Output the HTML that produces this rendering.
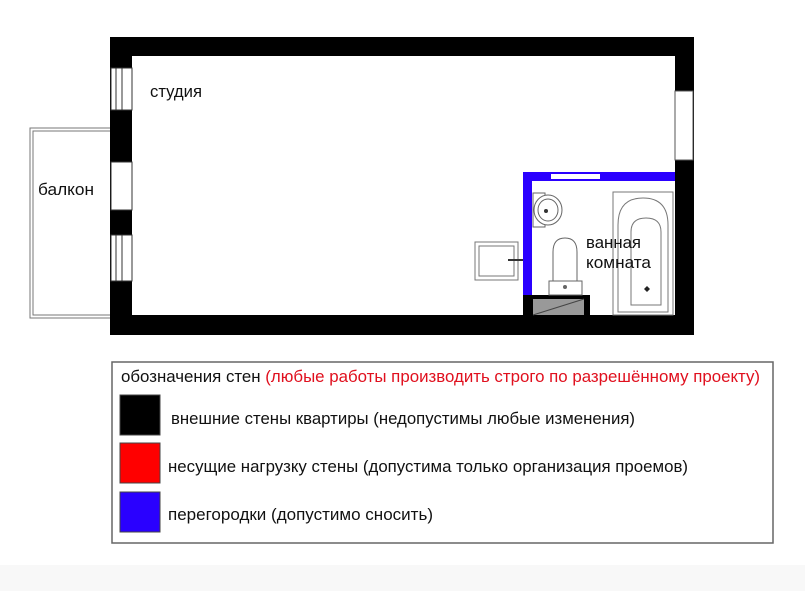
<!DOCTYPE html>
<html><head><meta charset="utf-8"><style>
html,body{margin:0;padding:0;background:#fff}
svg{display:block}
text{font-family:"Liberation Sans",sans-serif}
</style></head><body>
<svg width="805" height="591" viewBox="0 0 805 591" xmlns="http://www.w3.org/2000/svg">
<rect x="0" y="565" width="805" height="26" fill="#f8f8f8"/>
<rect x="30" y="128" width="81" height="190" fill="#fff" stroke="#777" stroke-width="1"/>
<rect x="33" y="131" width="78" height="184" fill="none" stroke="#777" stroke-width="1"/>
<rect x="110" y="37" width="584" height="19" fill="#000"/>
<rect x="110" y="315" width="584" height="20" fill="#000"/>
<rect x="675" y="37" width="19" height="298" fill="#000"/>
<rect x="110" y="37" width="22" height="298" fill="#000"/>
<rect x="111" y="68" width="21" height="42" fill="#fff" stroke="#333" stroke-width="1"/>
<line x1="116" y1="68" x2="116" y2="110" stroke="#333"/><line x1="122" y1="68" x2="122" y2="110" stroke="#333"/>
<rect x="111" y="162" width="21" height="48" fill="#fff" stroke="#333" stroke-width="1"/>
<rect x="111" y="235" width="21" height="46" fill="#fff" stroke="#333" stroke-width="1"/>
<line x1="116" y1="235" x2="116" y2="281" stroke="#333"/><line x1="122" y1="235" x2="122" y2="281" stroke="#333"/>
<rect x="675" y="91" width="18" height="69" fill="#fff" stroke="#555" stroke-width="1"/>
<rect x="523" y="172" width="152" height="9" fill="#2a00ff"/>
<rect x="523" y="172" width="9" height="123" fill="#2a00ff"/>
<rect x="551" y="174" width="49" height="5" fill="#fff"/>
<rect x="523" y="295" width="67" height="20" fill="#000"/>
<rect x="533" y="299" width="51" height="16" fill="#999"/>
<line x1="533" y1="315" x2="584" y2="299" stroke="#444"/>
<rect x="475" y="242" width="43" height="38" fill="#fff" stroke="#777"/>
<rect x="479" y="246" width="35" height="30" fill="none" stroke="#777"/>
<line x1="508" y1="260" x2="523" y2="260" stroke="#333" stroke-width="2"/>
<rect x="533" y="193" width="12" height="34" fill="#fff" stroke="#666"/>
<ellipse cx="548" cy="210" rx="14" ry="15" fill="#fff" stroke="#666"/>
<ellipse cx="548" cy="210" rx="10" ry="11" fill="none" stroke="#666"/>
<circle cx="546" cy="211" r="2" fill="#333"/>
<rect x="549" y="281" width="33" height="14" fill="#fff" stroke="#666"/>
<path d="M553 281 L553 252 Q553 238 565 238 Q577 238 577 252 L577 281 Z" fill="#fff" stroke="#666"/>
<circle cx="565" cy="287" r="2" fill="#666"/>
<rect x="613" y="192" width="60" height="123" fill="#fff" stroke="#777"/>
<path d="M618 312 L618 225 Q618 198 643 198 Q668 198 668 225 L668 312 Z" fill="none" stroke="#777"/>
<path d="M631 305 L631 232 Q631 218 646 218 Q661 218 661 232 L661 305 Z" fill="none" stroke="#777"/>
<path d="M644 289 l3 -3 l3 3 l-3 3 z" fill="#222"/>
<text x="586" y="248" font-size="16.5" fill="#111" textLength="55" lengthAdjust="spacingAndGlyphs">ванная</text>
<text x="586" y="268" font-size="16.5" fill="#111" textLength="65" lengthAdjust="spacingAndGlyphs">комната</text>
<text x="150" y="97" font-size="16.5" fill="#111" textLength="52" lengthAdjust="spacingAndGlyphs">студия</text>
<text x="38" y="195" font-size="16.5" fill="#111" textLength="56" lengthAdjust="spacingAndGlyphs">балкон</text>
<rect x="112" y="362" width="661" height="181" fill="#fff" stroke="#666" stroke-width="1.5"/>
<text x="121" y="382" font-size="16.5" fill="#111" textLength="639" lengthAdjust="spacingAndGlyphs">обозначения стен <tspan fill="#e0101e">(любые работы производить строго по разрешённому проекту)</tspan></text>
<rect x="120" y="395" width="40" height="40" fill="#000" stroke="#444"/>
<rect x="120" y="443" width="40" height="40" fill="#ff0000" stroke="#444"/>
<rect x="120" y="492" width="40" height="40" fill="#2a00ff" stroke="#444"/>
<text x="171" y="424" font-size="16.5" fill="#111" textLength="464" lengthAdjust="spacingAndGlyphs">внешние стены квартиры (недопустимы любые изменения)</text>
<text x="168" y="472" font-size="16.5" fill="#111" textLength="520" lengthAdjust="spacingAndGlyphs">несущие нагрузку стены (допустима только организация проемов)</text>
<text x="168" y="520" font-size="16.5" fill="#111" textLength="265" lengthAdjust="spacingAndGlyphs">перегородки (допустимо сносить)</text>
</svg>
</body></html>
